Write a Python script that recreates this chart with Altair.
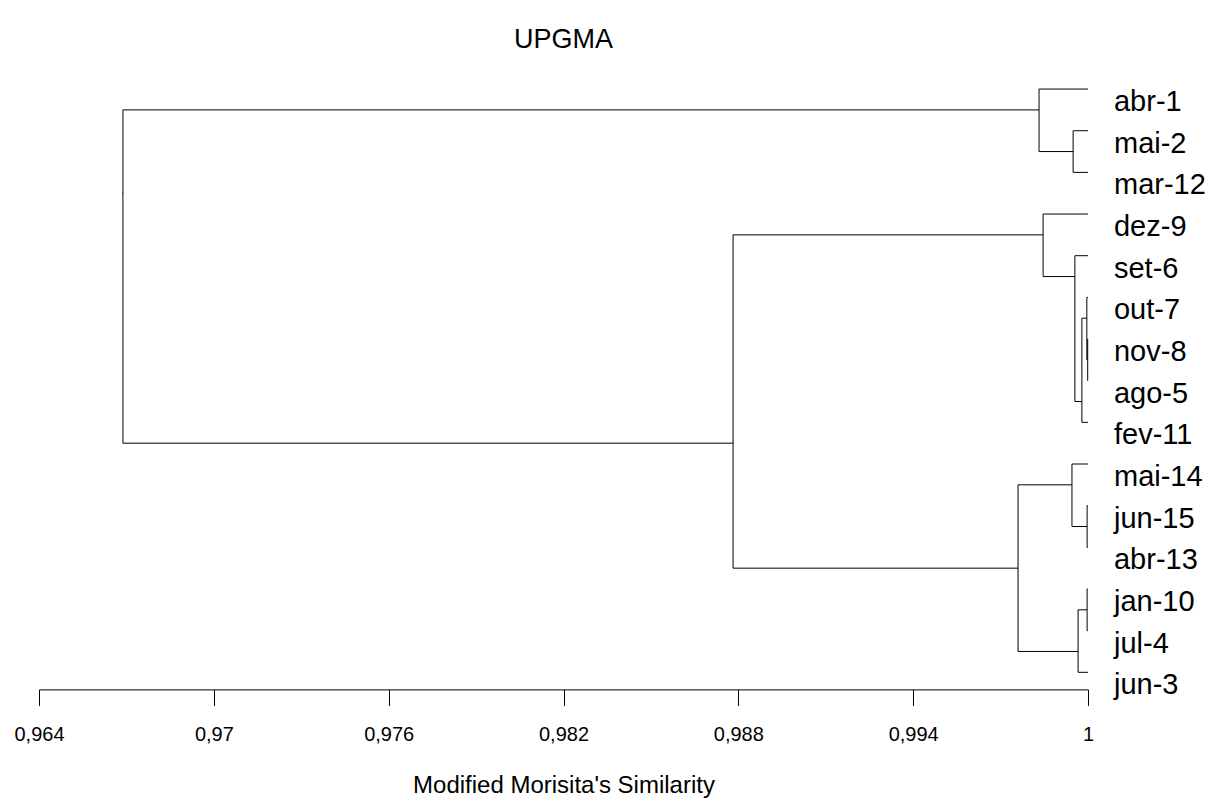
import altair as alt
import pandas as pd

# Leaves, top to bottom
leaves = ["abr-1", "mai-2", "mar-12", "dez-9", "set-6", "out-7", "nov-8", "ago-5",
          "fev-11", "mai-14", "jun-15", "abr-13", "jan-10", "jul-4", "jun-3"]

# UPGMA merges (node n1..n14 in order)
merge_left = ["mai-2", "abr-1", "nov-8", "out-7", "n4", "set-6", "dez-9",
              "jun-15", "mai-14", "jan-10", "n10", "n9", "n7", "n2"]
merge_right = ["mar-12", "n1", "ago-5", "n3", "fev-11", "n5", "n6",
               "abr-13", "n8", "jul-4", "jun-3", "n11", "n12", "n13"]
merge_sim = [0.99949, 0.99832, 0.99999, 0.99996, 0.99979, 0.99955, 0.99846,
             0.99997, 0.99945, 0.99997, 0.99966, 0.99760, 0.98782, 0.96688]

tick_values = [0.964, 0.97, 0.976, 0.982, 0.988, 0.994, 1.0]
tick_labels = ["0,964", "0,97", "0,976", "0,982", "0,988", "0,994", "1"]

# Build dendrogram segments (PAST-style layout)
pos = {}
for i, name in enumerate(leaves):
    pos[name] = (1.0, float(i), float(i))  # x, y, last leaf index
segs = []
for k, (l, r, s) in enumerate(zip(merge_left, merge_right, merge_sim), start=1):
    xl, yl, lastl = pos[l]
    xr, yr, lastr = pos[r]
    segs.append({"x": s, "x2": s, "y": yl, "y2": yr})
    segs.append({"x": xl, "x2": s, "y": yl, "y2": yl})
    segs.append({"x": xr, "x2": s, "y": yr, "y2": yr})
    pos[f"n{k}"] = (s, lastl + 0.5, lastr)
root_x, root_y, _ = pos[f"n{len(merge_sim)}"]
segs.append({"x": root_x - 0.00003, "x2": root_x, "y": root_y, "y2": root_y})
seg_df = pd.DataFrame(segs)

leaf_df = pd.DataFrame({"label": leaves, "x": [1.0] * len(leaves),
                        "y": list(range(len(leaves)))})

label_expr = ("[" + ",".join(f"'{s}'" for s in tick_labels) + "][indexof(["
              + ",".join(repr(v) for v in tick_values) + "], datum.value)]")

FONT = "Liberation Sans"
xs = alt.Scale(domain=[0.964, 1.0], nice=False, zero=False)
ys = alt.Scale(domain=[-1, 14.41], reverse=True, nice=False, zero=False)

xaxis = alt.Axis(values=tick_values, labelExpr=label_expr, grid=False,
                 domainColor="black", tickColor="black", tickSize=16,
                 domainWidth=1, tickWidth=1,
                 labelFontSize=20, labelFont=FONT, labelColor="black",
                 labelPadding=19, labelFlush=False, labelOverlap=False,
                 title="Modified Morisita's Similarity", titleFontSize=24,
                 titleFont=FONT, titleFontWeight="normal", titleColor="black",
                 titlePadding=29)

lines = alt.Chart(seg_df).mark_rule(color="black", strokeWidth=1).encode(
    x=alt.X("x:Q", scale=xs, axis=xaxis),
    x2="x2:Q",
    y=alt.Y("y:Q", scale=ys, axis=None),
    y2="y2:Q",
)

texts = alt.Chart(leaf_df).mark_text(
    align="left", baseline="alphabetic", dx=26, dy=22, fontSize=29,
    font=FONT, color="black"
).encode(
    x=alt.X("x:Q", scale=xs),
    y=alt.Y("y:Q", scale=ys),
    text="label:N",
)

chart = alt.layer(lines, texts).properties(
    width=1049, height=642,
    padding={"left": 31, "top": 39.4, "right": 118, "bottom": 110},
    autosize=alt.AutoSizeParams(type="none"),
    title=alt.Title("UPGMA", fontSize=27, font=FONT, fontWeight="normal",
                    color="black", offset=-7),
).configure_view(stroke=None)

chart.save("out.html", embed_options={"renderer": "svg", "actions": False})
